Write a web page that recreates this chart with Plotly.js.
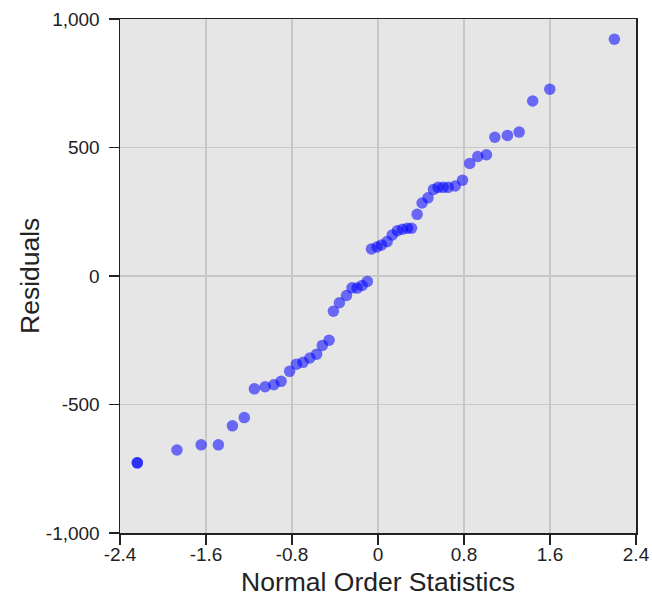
<!DOCTYPE html>
<html>
<head>
<meta charset="utf-8">
<script src="https://cdn.plot.ly/plotly-3.0.1.min.js"></script>
<style>html,body{margin:0;padding:0;background:#fff;}#chart{width:652px;height:596px;}</style>
</head>
<body>
<div id="chart"></div>
<script>
const normalOrderStats = [
  -2.239, -2.239, -1.870, -1.645, -1.485, -1.354, -1.244, -1.150, -1.050, -0.969,
  -0.901, -0.822, -0.759, -0.697, -0.634, -0.571, -0.518, -0.455, -0.415, -0.359,
  -0.293, -0.242, -0.195, -0.148, -0.099, -0.061, -0.009, 0.033, 0.085, 0.133,
  0.180, 0.227, 0.274, 0.312, 0.364, 0.410, 0.465, 0.516, 0.559, 0.606,
  0.653, 0.718, 0.786, 0.853, 0.928, 1.009, 1.087, 1.204, 1.313, 1.439,
  1.598, 2.199
];
const residuals = [
  -727, -727, -677, -657, -657, -583, -551, -439, -431, -423,
  -410, -371, -343, -336, -319, -304, -270, -250, -137, -104,
  -76, -46, -47, -37, -21, 105, 113, 121, 134, 160,
  176, 182, 186, 186, 240, 284, 304, 337, 345, 345,
  345, 350, 373, 438, 465, 472, 540, 547, 560, 681,
  727, 921
];
const xTickVals = [-2.4, -1.6, -0.8, 0, 0.8, 1.6, 2.4];
const xTickText = ["-2.4", "-1.6", "-0.8", "0", "0.8", "1.6", "2.4"];
const yTickVals = [-1000, -500, 0, 500, 1000];
const yTickText = ["-1,000", "-500", "0", "500", "1,000"];
const xTitle = "Normal Order Statistics";
const yTitle = "Residuals";

const FONT = 'Liberation Sans, Arial, sans-serif';

const trace = {
  x: normalOrderStats,
  y: residuals,
  type: 'scatter',
  mode: 'markers',
  marker: {size: 11.5, color: 'rgba(0,0,255,0.55)', line: {width: 0}},
  hoverinfo: 'x+y'
};

const axisCommon = {
  showline: true,
  linecolor: '#222',
  linewidth: 1.5,
  mirror: true,
  ticks: 'outside',
  ticklen: 10,
  tickwidth: 1.5,
  tickcolor: '#222',
  showgrid: true,
  gridcolor: '#c8c8c8',
  gridwidth: 1.2,
  zeroline: false,
  automargin: false,
  tickfont: {family: FONT, size: 19, color: '#222'}
};

const layout = {
  width: 652,
  height: 596,
  margin: {l: 120, r: 16, t: 19, b: 63},
  paper_bgcolor: '#ffffff',
  plot_bgcolor: '#e6e6e6',
  showlegend: false,
  xaxis: Object.assign({}, axisCommon, {
    range: [-2.4, 2.4],
    tickmode: 'array',
    tickvals: xTickVals,
    ticktext: xTickText,
    ticklabelstandoff: -6
  }),
  yaxis: Object.assign({}, axisCommon, {
    range: [-1000, 1000],
    tickmode: 'array',
    tickvals: yTickVals,
    ticktext: yTickText,
    ticklabelstandoff: 5
  }),
  annotations: [
    {text: xTitle, xref: 'paper', yref: 'paper', x: 0.5, y: 0, yshift: -49,
     xanchor: 'center', yanchor: 'middle', showarrow: false,
     font: {family: FONT, size: 26.5, color: '#222'}},
    {text: yTitle, xref: 'paper', yref: 'paper', x: 0, xshift: -90, y: 0.5,
     xanchor: 'center', yanchor: 'middle', textangle: -90, showarrow: false,
     font: {family: FONT, size: 26.5, color: '#222'}}
  ]
};

Plotly.newPlot('chart', [trace], layout, {displayModeBar: false, staticPlot: true});
</script>
</body>
</html>
